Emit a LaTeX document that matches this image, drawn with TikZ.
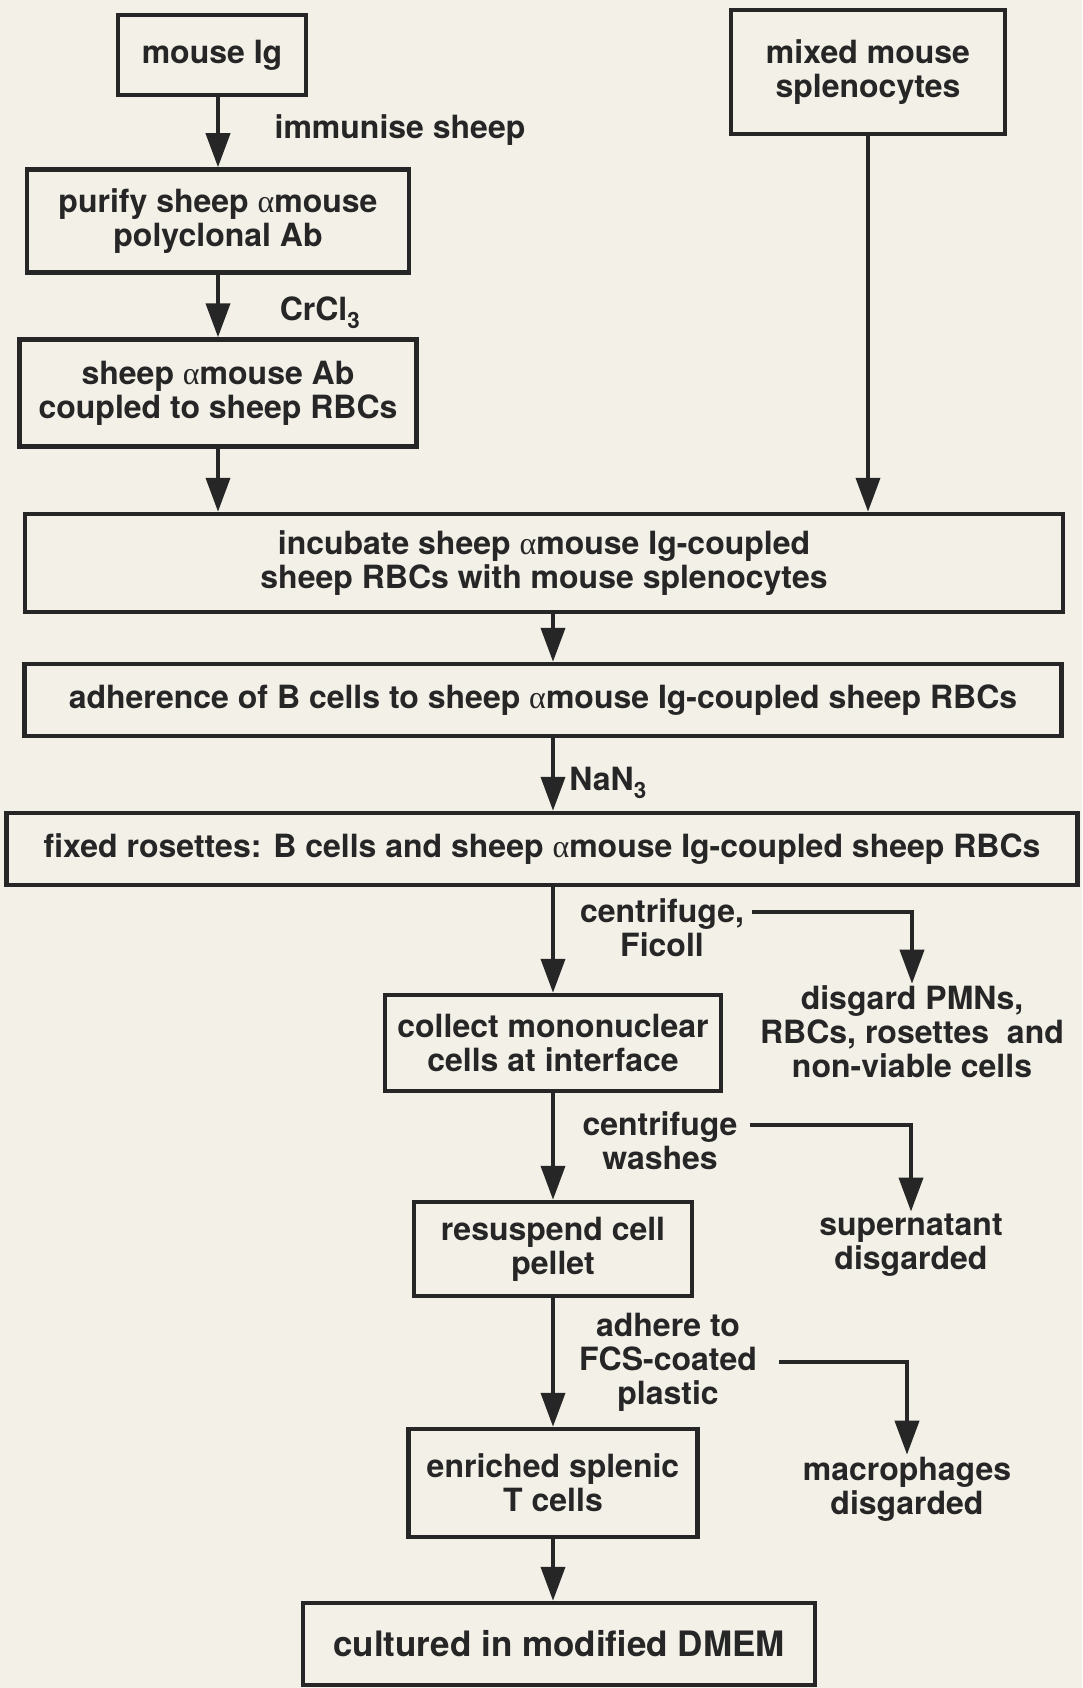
\documentclass[tikz,border=0pt]{standalone}
\usepackage{fontspec}
\setmainfont{TeX Gyre Heros}
\newfontfamily\greekfont{Liberation Serif}
\newcommand{\alp}{{\greekfont\mdseries α}}
\usetikzlibrary{arrows.meta,positioning}
\definecolor{paper}{RGB}{243,240,232}
\definecolor{ink}{RGB}{38,38,38}

\begin{document}
\begin{tikzpicture}[x=1pt, y=-1pt,
    box/.style={draw=ink, line width=4.5pt, text=ink, align=center, inner sep=0pt},
    lbl/.style={text=ink, align=center, inner sep=2pt},
    arr/.style={draw=ink, line width=4pt, -{Triangle[length=34pt,width=24pt]}},
    font=\fontsize{32}{34}\selectfont\bfseries]
    \useasboundingbox[fill=paper] (0,0) rectangle (1082,1688);
    \node[box, minimum width=188pt, minimum height=80pt] (mouseig) at (212,55) {mouse Ig};
    \node[box, minimum width=274pt, minimum height=124pt] (mixed) at (868,72) {mixed mouse\\splenocytes};
    \node[box, minimum width=382pt, minimum height=103pt] (purify) at (218,221) {purify sheep \alp mouse\\polyclonal Ab};
    \node[box, minimum width=397pt, minimum height=107pt] (sheepab) at (218,393) {sheep \alp mouse Ab\\coupled to sheep RBCs};
    \node[box, minimum width=1038pt, minimum height=98pt] (incubate) at (544,563) {incubate sheep \alp mouse Ig-coupled\\sheep RBCs with mouse splenocytes};
    \node[box, minimum width=1037pt, minimum height=72pt] (adherence) at (543,700) {adherence of B cells to sheep \alp mouse Ig-coupled sheep RBCs};
    \node[box, minimum width=1071pt, minimum height=72pt] (fixed) at (542,849) {fixed rosettes: B cells and sheep \alp mouse Ig-coupled sheep RBCs};
    \node[box, minimum width=336pt, minimum height=96pt] (collect) at (553,1043) {collect mononuclear\\cells at interface};
    \node[box, minimum width=278pt, minimum height=94pt] (resuspend) at (553,1249) {resuspend cell\\pellet};
    \node[box, minimum width=289pt, minimum height=108pt] (enriched) at (553,1483) {enriched splenic\\T cells};
    \node[box, minimum width=512pt, minimum height=82pt, font=\fontsize{35}{37}\selectfont\bfseries] (cultured) at (559,1644) {cultured in modified DMEM};

    \node[lbl] (immunise) at (400,130) {immunise sheep};
    \node[lbl] (crcl) at (320,313) {CrCl\textsubscript{3}};
    \node[lbl] (nan) at (608,783) {NaN\textsubscript{3}};
    \node[lbl] (cfficoll) at (662,928) {centrifuge,\\Ficoll};
    \node[lbl] (disgardcells) at (912,1032) {disgard PMNs,\\RBCs, rosettes\ \ and\\non-viable cells};
    \node[lbl] (cfwash) at (660,1141) {centrifuge\\washes};
    \node[lbl] (supernatant) at (911,1245) {supernatant\\disgarded};
    \node[lbl] (adhere) at (668,1362) {adhere to\\FCS-coated\\plastic};
    \node[lbl] (macro) at (907,1489) {macrophages\\disgarded};

    \draw[arr] (purify.north |- mouseig.south) -- (purify.north);
    \draw[arr] (purify) -- (sheepab);
    \draw[arr] (sheepab.south) -- (sheepab.south |- incubate.north);
    \draw[arr] (mixed.south) -- (mixed.south |- incubate.north);
    \draw[arr] (incubate.south -| collect) -- (adherence.north -| collect);
    \draw[arr] (adherence.south -| collect) -- (fixed.north -| collect);
    \draw[arr] (fixed.south -| collect) -- (collect.north);
    \draw[arr] (collect) -- (resuspend);
    \draw[arr] (resuspend) -- (enriched);
    \draw[arr] (enriched.south) -- (enriched.south |- cultured.north);
    \draw[arr] ([xshift=6pt,yshift=16pt]cfficoll.east) -| (disgardcells.north);
    \draw[arr] ([xshift=10pt,yshift=16pt]cfwash.east) -| (supernatant.north);
    \draw[arr] ([xshift=20pt]adhere.east) -| (macro.north);
\end{tikzpicture}
\end{document}
